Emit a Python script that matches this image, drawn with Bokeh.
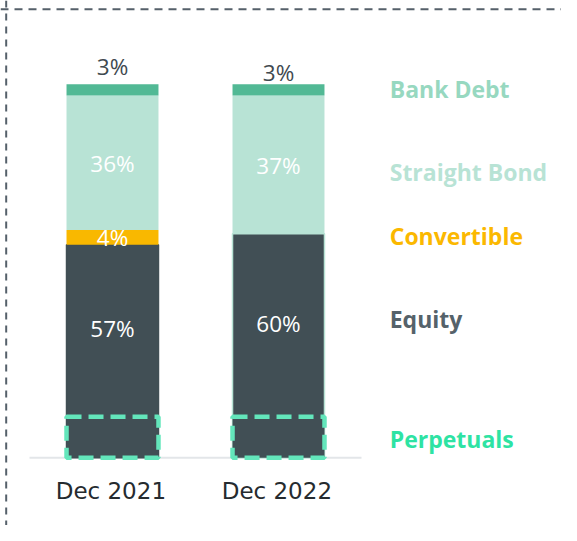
from bokeh.plotting import figure
from bokeh.models import Range1d, Span, ColumnDataSource
from bokeh.core.properties import value
from bokeh.embed import file_html
from bokeh.resources import INLINE

# ---------------- data ----------------
periods = ["Dec 2021", "Dec 2022"]
equity = [57, 60]
convertible = [4, 0]
straight_bond = [36, 37]
bank_debt = [3, 3]
perpetuals = [11, 11]          # part of equity shown as a dashed box
series_names = ["Bank Debt", "Straight Bond", "Convertible", "Equity", "Perpetuals"]

# ---------------- styles ----------------
C_EQ, C_CONV, C_SB, C_BD = "#414f55", "#f9b800", "#b8e3d5", "#52b995"
LABEL_COLORS = ["#97d8c0", "#b8e3d5", "#fbb800", "#55626a", "#2ee3a3"]
PERP_LINE = "#63e6bb"
FONT = "Open Sans"
BAR_W = 0.554

p = figure(width=561, height=525, output_backend="svg", toolbar_location=None,
           x_range=Range1d(-0.6747, 2.7048), y_range=Range1d(-18.12, 122.40),
           x_axis_location=None, y_axis_location=None, min_border=0,
           outline_line_color=None, background_fill_color="white")
p.grid.visible = False

xs = list(range(len(periods)))

# stacked values
eq_top = equity
conv_top = [a + b for a, b in zip(eq_top, convertible)]
sb_top = [a + b for a, b in zip(conv_top, straight_bond)]
bd_top = [a + b for a, b in zip(sb_top, bank_debt)]

# baseline
p.segment(x0=[xs[0] - 0.5], x1=[xs[-1] + 0.5], y0=[0], y1=[0],
          line_color="#e3e6e9", line_width=2)

src = ColumnDataSource(dict(
    x=xs, eq_top=eq_top, conv_top=conv_top, sb_top=sb_top, bd_top=bd_top,
    zero=[0] * len(xs), perp=perpetuals,
    eq_line=[C_EQ if c > 0 else C_SB for c in convertible],
))

p.vbar(x="x", bottom="zero", top="eq_top", width=BAR_W, fill_color=C_EQ,
       line_color="eq_line", line_width=1.5, source=src)
p.vbar(x="x", bottom="eq_top", top="conv_top", width=BAR_W, fill_color=C_CONV,
       line_color=None, source=src)
p.vbar(x="x", bottom="conv_top", top="sb_top", width=BAR_W, fill_color=C_SB,
       line_color=None, source=src)
p.vbar(x="x", bottom="sb_top", top="bd_top", width=BAR_W, fill_color=C_BD,
       line_color=None, source=src)
# perpetuals dashed boxes
p.vbar(x="x", bottom="zero", top="perp", width=BAR_W, fill_color=C_EQ,
       line_color=PERP_LINE, line_width=4.5, line_dash="15 7", source=src)

# ---------------- value labels ----------------
lx, ly, lt, lc, loff = [], [], [], [], []
for i, x in enumerate(xs):
    # straight bond
    lx.append(x); ly.append((conv_top[i] + sb_top[i]) / 2); lt.append(f"{straight_bond[i]}%")
    lc.append("white"); loff.append(0.5)
    if convertible[i] > 0:
        lx.append(x); ly.append((eq_top[i] + conv_top[i]) / 2); lt.append(f"{convertible[i]}%")
        lc.append("white"); loff.append(0)
    lx.append(x); ly.append((perpetuals[i] + eq_top[i]) / 2); lt.append(f"{equity[i]}%")
    lc.append("white"); loff.append(-2)
    # bank debt above the bar
    lx.append(x); ly.append(bd_top[i]); lt.append(f"{bank_debt[i]}%")
    lc.append("#3f4a50"); loff.append(-18 if i == 0 else -11.5)

p.text(x=lx, y=ly, text=lt, text_color=lc, y_offset=loff,
       text_font=value(FONT), text_font_size="22.5px",
       text_align="center", text_baseline="alphabetic")

# ---------------- right-hand series labels ----------------
mid_bd = (sb_top[0] + bd_top[0]) / 2
mid_sb = (conv_top[0] + sb_top[0]) / 2
mid_cv = (eq_top[0] + conv_top[0]) / 2
mid_eq = (perpetuals[0] + eq_top[0]) / 2
mid_pp = perpetuals[0] / 2
p.text(x=[1.67] * 5, y=[mid_bd, mid_sb, mid_cv, mid_eq, mid_pp], text=series_names,
       text_color=LABEL_COLORS, y_offset=[-1, 9, -1, -12, 2],
       text_font=value(FONT), text_font_style="bold", text_font_size="23px",
       text_align="left", text_baseline="alphabetic")

# ---------------- category labels ----------------
p.text(x=[x - 0.01 for x in xs], y=[0] * len(xs), text=periods, y_offset=33.5,
       text_color="#252b2f", text_font=value("DejaVu Sans"), text_font_size="23px",
       text_align="center", text_baseline="alphabetic")

# ---------------- dashed frame ----------------
p.add_layout(Span(location=120.07, dimension="width", line_color="#55606a",
                  line_width=2, line_dash="8 6"))
p.add_layout(Span(location=-0.6404, dimension="height", line_color="#55606a",
                  line_width=2, line_dash="7 6"))

open("out.html", "w").write(file_html(p, INLINE))
